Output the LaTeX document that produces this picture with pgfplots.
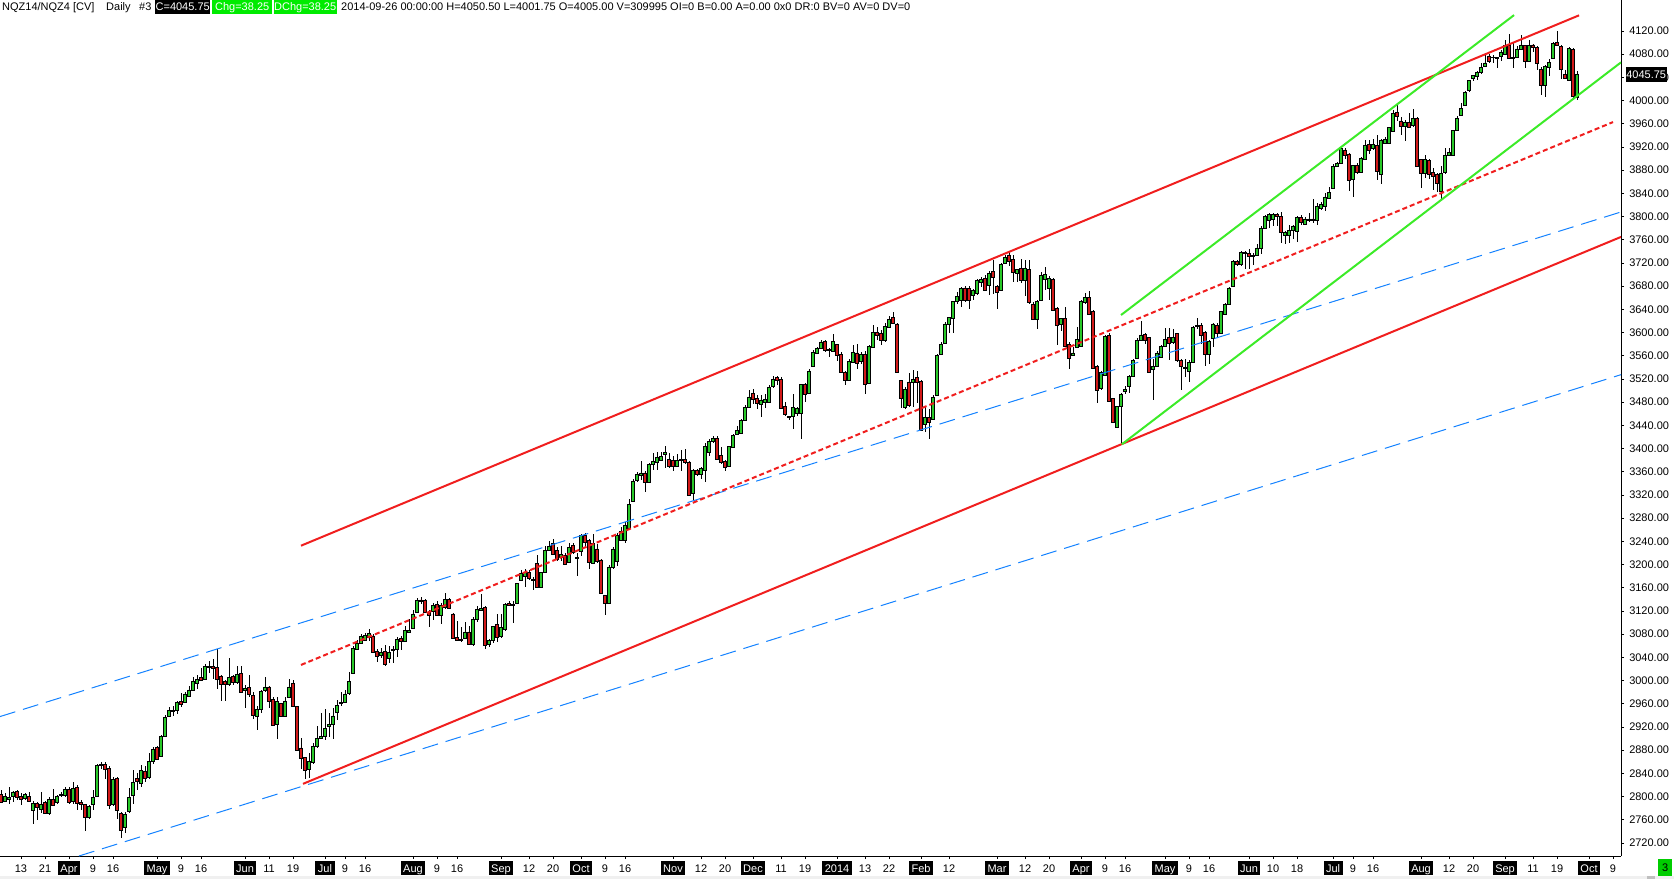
\documentclass[border=0pt]{standalone}
\usepackage{fontspec}
\setmainfont{Liberation Sans}
\usepackage{pgfplots}
\pgfplotsset{compat=1.18}
\usepackage{pgfplotstable}
\definecolor{cgreen}{RGB}{40,200,40}
\definecolor{cred}{RGB}{210,25,25}
\definecolor{lred}{RGB}{240,30,30}
\definecolor{lgreen}{RGB}{60,235,40}
\definecolor{lblue}{RGB}{20,130,255}
\definecolor{hgreen}{RGB}{0,235,0}
\definecolor{bgreen}{RGB}{0,205,0}
\pgfplotstableread{
i o h l c
-17 2803 2811 2789 2790
-16 2792 2806 2791 2801
-15 2795 2817 2788 2799
-14 2800 2810 2790 2808
-13 2809 2811 2794 2799
-12 2801 2806 2785 2795
-11 2797 2806 2794 2803
-10 2801 2808 2790 2792
-9 2776 2792 2752 2788
-8 2788 2791 2759 2782
-7 2778 2808 2771 2787
-6 2790 2792 2770 2771
-5 2771 2799 2769 2795
-4 2795 2813 2783 2785
-3 2790 2803 2788 2800
-2 2802 2808 2799 2804
-1 2802 2817 2799 2813
0 2813 2816 2787 2790
1 2792 2825 2787 2814
2 2816 2820 2777 2788
3 2790 2795 2777 2786
4 2786 2788 2740 2764
5 2764 2786 2761 2783
6 2786 2811 2777 2799
7 2800 2856 2799 2854
8 2853 2860 2847 2855
9 2856 2859 2831 2847
10 2849 2853 2779 2785
11 2786 2834 2783 2830
12 2832 2834 2761 2776
13 2771 2774 2728 2741
14 2747 2774 2738 2770
15 2775 2814 2771 2799
16 2802 2846 2787 2825
17 2832 2840 2811 2826
18 2823 2855 2817 2845
19 2843 2852 2825 2831
20 2834 2875 2831 2861
21 2861 2886 2857 2882
22 2885 2887 2863 2864
23 2869 2907 2868 2903
24 2903 2940 2902 2937
25 2938 2955 2937 2949
26 2947 2957 2939 2949
27 2948 2965 2943 2962
28 2964 2979 2955 2959
29 2962 2980 2961 2977
30 2972 2990 2971 2984
31 2983 3007 2982 2998
32 2996 3010 2986 3002
33 3006 3021 2999 3000
34 3002 3028 3001 3024
35 3022 3033 3013 3024
36 3024 3037 3003 3021
37 3023 3055 2986 3002
38 3008 3010 2964 2993
39 2998 3001 2965 2993
40 2993 3039 2990 3006
41 3007 3009 2993 2997
42 2997 3026 2994 3011
43 3013 3025 2979 2980
44 2983 2993 2953 2987
45 2988 3009 2972 2976
46 2974 2980 2933 2940
47 2939 2956 2914 2951
48 2951 2984 2944 2982
49 2983 3006 2980 2989
50 2989 2991 2952 2964
51 2968 2971 2921 2923
52 2924 2971 2900 2964
53 2960 2962 2937 2938
54 2938 2972 2937 2965
55 2971 3003 2970 2989
56 2995 3001 2955 2956
57 2956 2957 2878 2880
58 2884 2901 2848 2866
59 2868 2869 2830 2845
60 2847 2875 2832 2860
61 2859 2893 2857 2886
62 2886 2921 2883 2901
63 2900 2944 2899 2903
64 2903 2951 2898 2918
65 2921 2944 2902 2925
66 2924 2952 2900 2939
67 2946 2967 2932 2957
68 2961 2980 2957 2963
69 2962 2983 2961 2977
70 2978 3015 2976 2998
71 3013 3059 3012 3056
72 3054 3070 3052 3065
73 3064 3081 3063 3076
74 3070 3082 3068 3078
75 3074 3089 3069 3082
76 3077 3080 3047 3048
77 3050 3054 3032 3041
78 3043 3057 3039 3049
79 3050 3061 3025 3028
80 3039 3059 3031 3049
81 3052 3059 3031 3054
82 3054 3076 3041 3071
83 3072 3077 3053 3067
84 3067 3094 3066 3087
85 3083 3106 3083 3086
86 3090 3121 3089 3115
87 3118 3143 3117 3138
88 3139 3144 3132 3137
89 3138 3140 3117 3118
90 3117 3121 3093 3113
91 3119 3133 3105 3129
92 3132 3138 3112 3113
93 3113 3133 3097 3130
94 3127 3151 3123 3140
95 3140 3143 3123 3124
96 3115 3117 3071 3072
97 3074 3102 3069 3070
98 3071 3093 3066 3070
99 3072 3101 3071 3084
100 3084 3094 3062 3063
101 3063 3109 3059 3105
102 3105 3128 3101 3123
103 3121 3149 3120 3124
104 3126 3129 3055 3061
105 3062 3072 3058 3070
106 3069 3095 3064 3093
107 3097 3114 3067 3075
108 3076 3114 3074 3091
109 3089 3134 3086 3131
110 3133 3138 3128 3129
111 3130 3138 3100 3132
112 3134 3169 3132 3167
113 3172 3191 3171 3185
114 3179 3192 3161 3187
115 3186 3190 3174 3177
116 3175 3179 3156 3172
117 3202 3216 3159 3160
118 3160 3187 3159 3186
119 3187 3232 3186 3224
120 3225 3240 3224 3232
121 3236 3244 3216 3217
122 3225 3231 3206 3209
123 3213 3232 3207 3218
124 3216 3220 3199 3201
125 3203 3237 3202 3229
126 3233 3237 3218 3221
127 3210 3220 3180 3213
128 3223 3253 3215 3250
129 3251 3254 3228 3238
130 3242 3245 3192 3203
131 3202 3253 3201 3237
132 3227 3236 3203 3205
133 3208 3210 3149 3151
134 3147 3148 3113 3133
135 3134 3199 3132 3196
136 3195 3231 3193 3227
137 3205 3255 3197 3251
138 3242 3264 3240 3257
139 3242 3273 3238 3268
140 3262 3313 3260 3303
141 3309 3348 3308 3344
142 3346 3359 3343 3356
143 3353 3379 3346 3358
144 3358 3362 3325 3341
145 3342 3376 3340 3373
146 3373 3392 3363 3378
147 3376 3394 3363 3385
148 3379 3394 3378 3386
149 3390 3404 3366 3393
150 3381 3392 3366 3370
151 3379 3388 3361 3369
152 3369 3391 3368 3380
153 3379 3397 3362 3381
154 3382 3399 3374 3377
155 3377 3379 3319 3320
156 3323 3365 3312 3363
157 3363 3365 3353 3355
158 3355 3369 3348 3366
159 3363 3410 3342 3404
160 3393 3416 3388 3412
161 3413 3422 3409 3418
162 3418 3422 3381 3382
163 3388 3403 3373 3376
164 3378 3381 3362 3368
165 3369 3405 3368 3403
166 3402 3425 3401 3422
167 3424 3439 3423 3431
168 3427 3451 3425 3449
169 3449 3476 3448 3471
170 3471 3501 3470 3489
171 3495 3502 3477 3485
172 3486 3492 3469 3478
173 3477 3493 3455 3484
174 3479 3494 3470 3485
175 3480 3509 3478 3505
176 3507 3526 3505 3519
177 3522 3526 3510 3517
178 3519 3523 3469 3470
179 3473 3481 3457 3459
180 3456 3457 3449 3454
181 3455 3494 3433 3471
182 3461 3471 3457 3469
183 3461 3512 3417 3511
184 3511 3513 3480 3493
185 3495 3538 3494 3534
186 3541 3570 3540 3566
187 3565 3576 3563 3572
188 3573 3587 3571 3584
189 3585 3588 3567 3570
190 3571 3574 3558 3569
191 3568 3597 3566 3585
192 3579 3581 3551 3561
193 3563 3566 3530 3532
194 3532 3534 3509 3518
195 3517 3555 3516 3551
196 3549 3578 3548 3566
197 3565 3581 3538 3547
198 3550 3567 3546 3563
199 3563 3568 3495 3510
200 3512 3578 3511 3576
201 3575 3613 3573 3601
202 3601 3610 3587 3596
203 3599 3604 3578 3586
204 3586 3616 3584 3611
205 3609 3628 3608 3622
206 3626 3636 3614 3616
207 3615 3617 3531 3532
208 3517 3519 3470 3487
209 3471 3507 3469 3502
210 3515 3530 3472 3475
211 3515 3535 3472 3520
212 3522 3533 3478 3515
213 3516 3518 3431 3432
214 3442 3472 3429 3454
215 3454 3468 3416 3446
216 3450 3492 3449 3488
217 3492 3563 3491 3560
218 3562 3583 3561 3580
219 3581 3618 3580 3615
220 3615 3627 3600 3626
221 3624 3654 3600 3653
222 3653 3670 3650 3663
223 3656 3679 3645 3676
224 3677 3681 3653 3655
225 3676 3681 3641 3655
226 3665 3676 3657 3673
227 3668 3692 3664 3690
228 3686 3696 3679 3691
229 3694 3699 3671 3673
230 3681 3706 3665 3702
231 3706 3726 3667 3696
232 3680 3682 3640 3669
233 3672 3720 3671 3718
234 3719 3733 3718 3730
235 3734 3739 3714 3722
236 3726 3734 3688 3704
237 3702 3710 3688 3709
238 3710 3727 3686 3690
239 3690 3725 3663 3710
240 3709 3725 3649 3652
241 3649 3652 3622 3623
242 3623 3656 3606 3653
243 3655 3704 3654 3698
244 3692 3713 3673 3700
245 3676 3697 3656 3694
246 3692 3695 3638 3639
247 3642 3645 3578 3613
248 3614 3626 3603 3625
249 3625 3645 3575 3576
250 3579 3583 3538 3556
251 3561 3575 3559 3565
252 3574 3610 3573 3588
253 3577 3656 3576 3653
254 3652 3669 3650 3660
255 3660 3671 3631 3632
256 3637 3639 3537 3538
257 3542 3545 3478 3500
258 3503 3533 3501 3531
259 3526 3596 3525 3593
260 3595 3600 3480 3482
261 3487 3488 3444 3445
262 3437 3474 3436 3472
263 3472 3496 3409 3494
264 3498 3508 3495 3502
265 3507 3527 3496 3525
266 3525 3555 3524 3552
267 3555 3591 3554 3587
268 3586 3620 3585 3596
269 3597 3600 3581 3587
270 3591 3593 3531 3532
271 3537 3555 3483 3542
272 3542 3569 3541 3565
273 3558 3579 3556 3576
274 3577 3608 3576 3588
275 3592 3608 3553 3581
276 3584 3607 3581 3592
277 3598 3600 3550 3552
278 3552 3554 3501 3541
279 3540 3555 3524 3538
280 3534 3553 3515 3549
281 3549 3611 3548 3609
282 3612 3626 3607 3610
283 3612 3616 3581 3596
284 3601 3603 3543 3563
285 3563 3588 3546 3585
286 3590 3616 3576 3615
287 3612 3616 3590 3598
288 3599 3638 3598 3636
289 3632 3651 3631 3649
290 3649 3679 3648 3677
291 3679 3725 3678 3723
292 3722 3725 3714 3717
293 3717 3740 3715 3738
294 3738 3741 3710 3736
295 3737 3744 3710 3731
296 3733 3737 3716 3731
297 3734 3752 3733 3746
298 3745 3783 3736 3779
299 3779 3802 3778 3800
300 3794 3806 3780 3803
301 3795 3807 3783 3803
302 3804 3807 3783 3800
303 3800 3808 3754 3772
304 3768 3776 3753 3772
305 3768 3785 3754 3776
306 3776 3785 3762 3784
307 3775 3801 3757 3799
308 3799 3803 3786 3790
309 3787 3800 3786 3796
310 3794 3806 3790 3796
311 3796 3831 3789 3794
312 3794 3823 3786 3817
313 3814 3825 3811 3821
314 3818 3840 3809 3834
315 3832 3851 3831 3842
316 3848 3890 3847 3887
317 3887 3894 3885 3892
318 3892 3921 3891 3918
319 3915 3918 3900 3906
320 3908 3910 3845 3863
321 3864 3889 3834 3888
322 3888 3892 3873 3876
323 3876 3902 3875 3900
324 3899 3932 3898 3922
325 3925 3932 3908 3914
326 3917 3933 3914 3925
327 3922 3940 3863 3878
328 3872 3933 3857 3932
329 3927 3937 3926 3933
330 3926 3955 3925 3953
331 3947 3984 3946 3978
332 3980 3992 3965 3972
333 3965 3972 3941 3956
334 3956 3967 3931 3962
335 3962 3978 3952 3954
336 3957 3986 3955 3970
337 3970 3972 3885 3886
338 3899 3900 3850 3874
339 3874 3906 3866 3899
340 3897 3900 3864 3872
341 3876 3884 3846 3869
342 3872 3875 3843 3858
343 3844 3888 3831 3874
344 3876 3919 3874 3906
345 3906 3919 3904 3910
346 3906 3949 3905 3948
347 3949 3973 3947 3969
348 3975 3996 3973 3987
349 3992 4017 3991 4014
350 4017 4036 4015 4035
351 4038 4045 4034 4043
352 4041 4051 4036 4049
353 4049 4064 4046 4057
354 4059 4080 4058 4065
355 4077 4080 4065 4068
356 4075 4078 4064 4074
357 4074 4076 4057 4073
358 4076 4088 4069 4084
359 4080 4104 4079 4095
360 4095 4115 4071 4073
361 4074 4100 4057 4073
362 4074 4094 4073 4089
363 4088 4113 4087 4096
364 4095 4096 4056 4067
365 4067 4104 4066 4095
366 4096 4098 4084 4091
367 4092 4094 4053 4065
368 4053 4058 4010 4027
369 4027 4061 4007 4059
370 4057 4071 4042 4066
371 4073 4101 4071 4099
372 4100 4120 4094 4095
373 4094 4096 4037 4053
374 4045 4053 4037 4038
375 4035 4092 4033 4090
376 4088 4090 4005 4007
377 4005 4050.5 4001.75 4045.75
}\tbl
\newcommand{\mon}[1]{{\setlength{\fboxsep}{0pt}\colorbox{black}{\rule[-3pt]{0pt}{14pt}\hspace{2.5pt}\textcolor{white}{#1}\hspace{2.5pt}}}}
\pgfplotsset{base/.style={at={(0pt,0pt)}, anchor=south west, scale only axis,
  width=1621pt, height=841pt, xmin=-17.25, xmax=388, ymin=2697.6, ymax=4147.6}}
\begin{document}
\fontsize{11}{13}\selectfont
\begin{tikzpicture}
% wicks
\begin{axis}[base, hide axis]
\addplot[draw=none, mark=none, error bars/.cd, y dir=both, y explicit, error mark=none,
  error bar style={draw=black, line width=1pt}]
  table[x=i, y expr={(\thisrow{h}+\thisrow{l})/2}, y error expr={(\thisrow{h}-\thisrow{l})/2}] {\tbl};
\end{axis}
% bodies
\begin{axis}[base, hide axis, ybar stacked, bar width=2.5pt]
\addplot[draw=none, fill=none] table[x=i, y expr={min(\thisrow{o},\thisrow{c})}] {\tbl};
\addplot[fill=cgreen, draw=black, line width=0.75pt] table[x=i, y expr={max(\thisrow{c}-\thisrow{o},0)}] {\tbl};
\addplot[fill=cred, draw=black, line width=0.75pt] table[x=i, y expr={max(\thisrow{o}-\thisrow{c},0)}] {\tbl};
\end{axis}
% lines, axes
\begin{axis}[base, axis x line*=bottom, axis y line*=right,
  axis line style={black, line width=1pt},
  tick style={black, line width=1pt}, major tick length=3pt, tick align=outside,
  tick label style={font=\fontsize{11}{13}\selectfont},
  ytick={2720,2760,...,4120}, scaled y ticks=false,
  yticklabel={\pgfmathprintnumber[fixed,fixed zerofill,precision=2,1000 sep={},assume math mode=true]{\tick}},
  yticklabel style={anchor=west, inner sep=0pt, xshift=5pt},
  xtick={-12,-6,0,6,11,22,28,33,44,50,56,64,69,74,86,92,97,108,115,121,128,134,139,151,158,164,171,178,184,192,199,205,213,220,232,239,245,253,259,264,274,280,285,295,301,307,316,321,326,338,345,351,359,366,372,380,386},
  xticklabels={13,21,\mon{Apr},9,16,\mon{May},9,16,\mon{Jun},11,19,\mon{Jul},9,16,\mon{Aug},9,16,\mon{Sep},12,20,\mon{Oct},9,16,\mon{Nov},12,20,\mon{Dec},11,19,\mon{2014},13,22,\mon{Feb},12,\mon{Mar},12,20,\mon{Apr},9,16,\mon{May},9,16,\mon{Jun},10,18,\mon{Jul},9,16,\mon{Aug},12,20,\mon{Sep},11,19,\mon{Oct},9},
  xticklabel style={anchor=north, inner sep=0pt, text height=11pt, text depth=3pt, yshift=-2pt},
]
\addplot[lblue, line width=1pt, dash pattern=on 16pt off 8pt] coordinates {(-17.25,2938) (388,3808)};
\addplot[lblue, line width=1pt, dash pattern=on 16pt off 8pt] coordinates {(2.5,2697.6) (388,3527.5)};
\addplot[lred, line width=2pt] coordinates {(58,3232.6) (377.5,4147)};
\addplot[lred, line width=2pt] coordinates {(58.5,2822) (388,3765)};
\addplot[lred, line width=2pt, dash pattern=on 5pt off 3pt] coordinates {(58,3027) (386,3963)};
\addplot[lgreen, line width=2pt] coordinates {(263,3630.3) (361.25,4147.4)};
\addplot[lgreen, line width=2pt] coordinates {(263.2,3407.4) (388,4066)};
\end{axis}
% decorations
\draw[black, line width=1pt] (1621pt,840pt) -- (1621pt,856pt);
\node[anchor=north, inner sep=0pt, text height=11pt, text depth=3pt] at (-3pt,-5pt) {5};
\fill[black!6] (0pt,-20pt) rectangle (1674pt,-23pt);
\fill[black!25] (1647pt,-20pt) rectangle (1655pt,-23pt);
\node[fill=bgreen, inner sep=0pt, minimum width=14pt, minimum height=17pt, anchor=north west] at (1658pt,-3pt) {3};
\node[fill=black, text=white, inner sep=0pt, minimum width=41pt, minimum height=15pt, anchor=west] at (1625.5pt,781.5pt) {4045.75};
% header
\node[anchor=base west, inner sep=0pt] at (2pt,845pt) {NQZ14/NQZ4 [CV]};
\node[anchor=base west, inner sep=0pt] at (106pt,845pt) {Daily};
\node[anchor=base west, inner sep=0pt] at (139pt,845pt) {\#3};
\node[anchor=base west, inner sep=0pt] at (155pt,845pt) {{\setlength{\fboxsep}{0pt}\colorbox{black}{\rule[-3pt]{0pt}{14pt}\makebox[55pt]{\textcolor{white}{C=4045.75}}}}};
\node[anchor=base west, inner sep=0pt] at (212pt,845pt) {{\setlength{\fboxsep}{0pt}\colorbox{hgreen}{\rule[-3pt]{0pt}{14pt}\makebox[60pt]{\textcolor{white}{Chg=38.25}}}}};
\node[anchor=base west, inner sep=0pt] at (273.5pt,845pt) {{\setlength{\fboxsep}{0pt}\colorbox{hgreen}{\rule[-3pt]{0pt}{14pt}\makebox[63pt]{\textcolor{white}{DChg=38.25}}}}};
\node[anchor=base west, inner sep=0pt] at (341pt,845pt) {2014-09-26 00:00:00 H=4050.50 L=4001.75 O=4005.00 V=309995 OI=0 B=0.00 A=0.00 0x0 DR:0 BV=0 AV=0 DV=0};
\pgfresetboundingbox
\useasboundingbox (0pt,-23pt) rectangle (1674pt,856pt);
\end{tikzpicture}
\end{document}
